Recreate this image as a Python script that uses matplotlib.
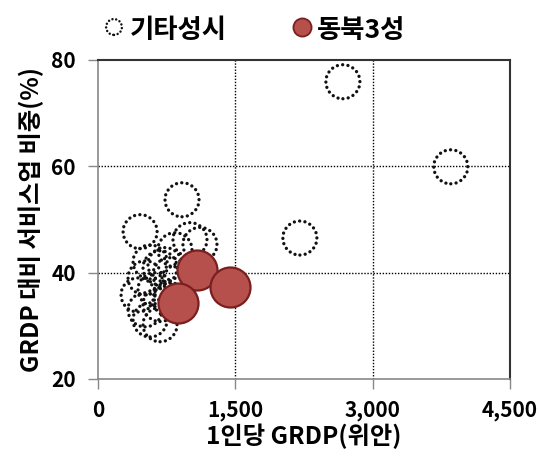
import matplotlib
matplotlib.use("Agg")
import matplotlib.pyplot as plt

plt.rcParams['font.family'] = ['Noto Sans CJK KR', 'DejaVu Sans']

# Other provinces (기타성시): per-capita GRDP (yuan), services share of GRDP (%)
other_x = [2675, 3854, 2205, 917, 459, 1004, 1113, 840, 568, 677, 513, 786,
           437, 622, 513, 677, 568, 677, 786, 731, 900]
other_y = [75.9, 59.9, 46.5, 53.7, 47.7, 46.2, 45.3, 44.3, 42.0, 40.9, 39.0, 39.6,
           35.8, 36.8, 33.0, 34.0, 31.1, 30.2, 34.9, 41.5, 38.5]
# Northeast 3 provinces (동북3성)
ne_x = [1080, 873, 1441]
ne_y = [40.5, 34.3, 37.3]

x_ticks = [0, 1500, 3000, 4500]
x_labels = ['0', '1,500', '3,000', '4,500']
y_ticks = [20, 40, 60, 80]
legend_labels = ['기타성시', '동북3성']

RED_FACE = '#b5504c'
RED_EDGE = '#7a1f1f'
DOT = (0, (0.01, 1.6))

fig = plt.figure(figsize=(5.39, 4.61), dpi=100)
ax = fig.add_axes([0.182, 0.178, 0.764, 0.692])

sc = ax.scatter(other_x, other_y, s=600, facecolors='none', edgecolors='#111111',
                linewidths=2.4, linestyles=DOT, zorder=3)
sc.set_capstyle('round')
ax.scatter(ne_x, ne_y, s=830, facecolors=RED_FACE, edgecolors=RED_EDGE,
           linewidths=1.6, zorder=4)

ax.set_xlim(0, 4500)
ax.set_ylim(20, 80)
ax.set_xticks(x_ticks)
ax.set_xticklabels(x_labels)
ax.set_yticks(y_ticks)

for v in x_ticks[1:-1]:
    ax.axvline(v, color='black', linestyle=(0, (1, 1.2)), linewidth=1.0, zorder=1)
for v in y_ticks[1:-1]:
    ax.axhline(v, color='black', linestyle=(0, (1, 1.2)), linewidth=1.0, zorder=1)

for s in ['left', 'bottom']:
    ax.spines[s].set_color('#888888')
    ax.spines[s].set_linewidth(1.2)
for s in ['top', 'right']:
    ax.spines[s].set_color('#333333')
    ax.spines[s].set_linewidth(1.5)

ax.tick_params(axis='both', direction='out', length=7, color='#888888', width=1.0,
               labelsize=15)
ax.tick_params(axis='x', pad=8)
ax.tick_params(axis='y', pad=9)
for lbl in ax.get_xticklabels() + ax.get_yticklabels():
    lbl.set_fontweight('bold')

ax.set_xlabel('1인당 GRDP(위안)', fontsize=17.5, fontweight='bold', labelpad=2)
ax.set_ylabel('GRDP 대비 서비스업 비중(%)', fontsize=17.5, fontweight='bold', labelpad=5)

# Legend drawn above the plot in figure coordinates
lax = fig.add_axes([0, 0, 1, 1], facecolor='none')
lax.set_xlim(0, 539)
lax.set_ylim(461, 0)
lax.axis('off')
lc = lax.scatter([114], [27], s=130, facecolors='none', edgecolors='#111111',
                 linewidths=1.8, linestyles=(0, (0.01, 1.5)))
lc.set_capstyle('round')
lax.scatter([302], [27], s=170, facecolors=RED_FACE, edgecolors=RED_EDGE, linewidths=1.3)
lax.text(130, 30, legend_labels[0], fontsize=19, fontweight='bold', va='center', ha='left')
lax.text(317, 30, legend_labels[1], fontsize=19, fontweight='bold', va='center', ha='left')

fig.savefig('out.png', dpi=100)
